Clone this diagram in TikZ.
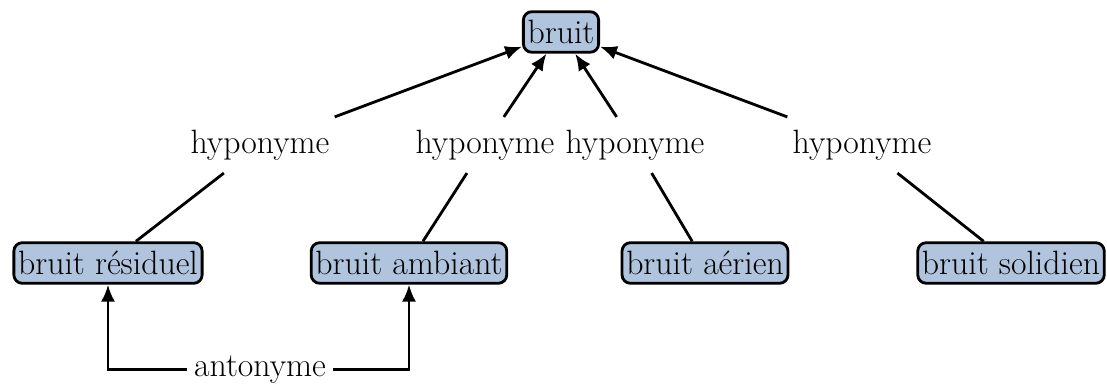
\documentclass[tikz,border=0pt]{standalone}
\usetikzlibrary{arrows.meta}

\definecolor{boxblue}{RGB}{176,196,222}

\tikzset{
    terme/.style={draw,line width=2pt,rounded corners=6pt,fill=boxblue,inner xsep=3pt,inner ysep=6pt,font=\fontsize{24}{28}\selectfont},
    relation/.style={inner sep=9pt,font=\fontsize{24}{28}\selectfont},
    lien/.style={line width=2pt,-{Latex[length=12pt,width=10pt]}},
    trait/.style={line width=2pt}
}

\begin{document}
\begin{tikzpicture}
    \useasboundingbox (0,0) rectangle (27.675,9.625);

    \node (bruit) [terme,at={(14.025,8.825)}] {bruit};

    % termes du bas
    \node (residuel) [terme,at={(2.7,3.05)}] {bruit résiduel};
    \node (ambiant) [terme,at={(10.225,3.05)}] {bruit ambiant};
    \node (aerien) [terme,at={(17.625,3.05)}] {bruit aérien};
    \node (solidien) [terme,at={(25.275,3.05)}] {bruit solidien};

    % relations
    \node (hypA) [relation,at={(6.5,6.0)}] {hyponyme};
    \node (hypB) [relation,at={(12.125,6.0)}] {hyponyme};
    \node (hypC) [relation,at={(15.875,6.0)}] {hyponyme};
    \node (hypD) [relation,at={(21.55,6.0)}] {hyponyme};
    \node (anto) [relation,inner sep=5pt,at={(6.5,0.38)}] {antonyme};

    \draw[trait] (residuel) -- (hypA);
    \draw[lien] (hypA) -- (bruit);
    \draw[trait] (ambiant) -- (hypB);
    \draw[lien] (hypB) -- (bruit);
    \draw[trait] (aerien) -- (hypC);
    \draw[lien] (hypC) -- (bruit);
    \draw[trait] (solidien) -- (hypD);
    \draw[lien] (hypD) -- (bruit);

    % antonymie
    \draw[lien] (anto.west) -| (residuel.south);
    \draw[lien] (anto.east) -| (ambiant.south);
\end{tikzpicture}
\end{document}
